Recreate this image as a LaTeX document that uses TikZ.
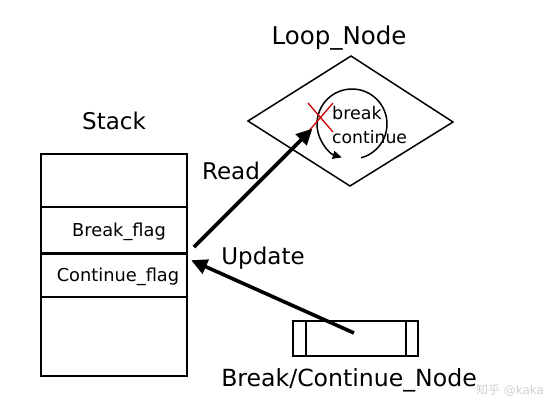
\documentclass[tikz,border=0pt]{standalone}
\usepackage{fontspec}
\setmainfont{DejaVu Sans}
\newfontfamily\cjk{Noto Sans CJK SC}
\usetikzlibrary{arrows.meta}
\begin{document}
\begin{tikzpicture}[x=1pt,y=-1pt,
  big/.style={font=\fontsize{23}{26}\selectfont, inner sep=0pt, anchor=center},
  small/.style={font=\fontsize{17.8}{20}\selectfont, inner sep=0pt, anchor=center},
  thin/.style={line width=1.5pt},
  bigarrow/.style={line width=3.6pt, -{Triangle[length=16pt,width=15pt]}, shorten >=-2pt}]
\useasboundingbox (0,0) rectangle (545,413);
\fill[white] (0,0) rectangle (545,413);
% stack
\draw[thin] (41,154) rectangle (187,376);
\draw[thin] (41,207) -- (187,207);
\draw[line width=3pt] (41,253) -- (187,253);
\draw[thin] (41,297) -- (187,297);
\node[big] (stack) at (114,121) {Stack};
\node[small] (bflag) at (119,232) {Break\_flag};
\node[small] (cflag) at (118,277) {Continue\_flag};
\coordinate (readstart) at (194,247);
\coordinate (updtip) at (193,261);
% loop node
\draw[thin] (248,121) coordinate (dl) -- (351,56) -- (453,122) -- (350,186) -- cycle;
\node[big, font=\fontsize{24.5}{28}\selectfont] (loop) at (339,38) {Loop\_Node};
\node[small, anchor=west, font=\fontsize{17.5}{20}\selectfont] (brk) at (332,113) {break};
\node[small, anchor=west, font=\fontsize{17.2}{20}\selectfont] (cont) at (332,137) {continue};
\draw[thin, -{Triangle[length=9pt,width=8pt]}] (352,124) ++(75:35) arc[start angle=75, end angle=-253, radius=35];
\draw[red!80!black, line width=1.3pt] (308,103) -- (333,132) (308,132) -- (333,103);
\coordinate (readtip) at (311,130);
% break/continue node
\draw[thin] (293,321) rectangle (418,356);
\draw[thin] (306,321) -- (306,356) (406,321) -- (406,356);
\coordinate (bcstart) at (354,333);
\node[big, font=\fontsize{23.6}{27}\selectfont] (bcn) at (349,380) {Break/Continue\_Node};
% arrows
\draw[bigarrow] (readstart) -- (readtip);
\draw[bigarrow] (bcstart) -- (updtip);
\node[big] (read) at (231,171) {Read};
\node[big] (upd) at (263,258) {Update};
\node[font=\fontsize{12}{15}\selectfont, text=black!18, inner sep=0pt] (wm) at (510,390) {{\cjk 知乎} @kaka};
\end{tikzpicture}
\end{document}
